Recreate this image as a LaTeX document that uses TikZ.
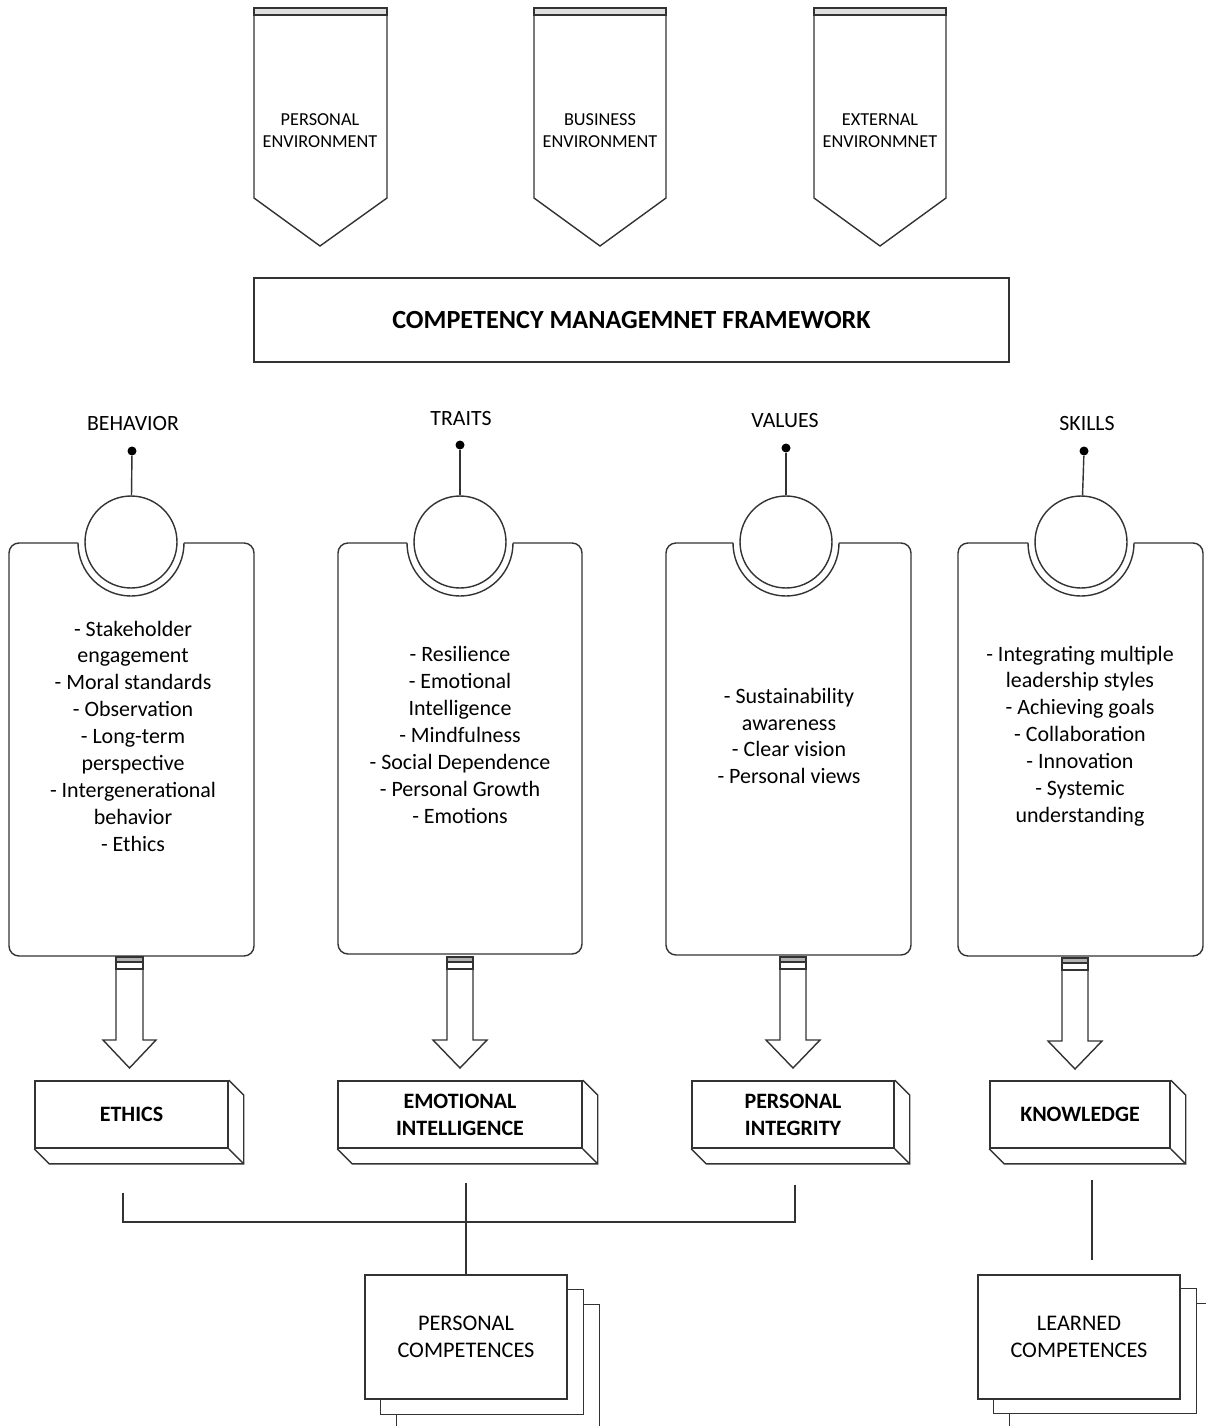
\documentclass[tikz,border=0pt]{standalone}
\usepackage{fontspec}
\setmainfont{Carlito}
\usetikzlibrary{backgrounds}

\begin{document}
\begin{tikzpicture}[
    x=0.02cm, y=-0.02cm,
    line/.style={draw=black!80, line width=0.8pt},
    envtext/.style={align=center, font=\fontsize{10.4}{12.5}\selectfont},
    framebox/.style={rectangle, line, minimum width=15.1cm, minimum height=1.68cm, font=\bfseries\fontsize{14.9}{17}\selectfont},
    heading/.style={font=\fontsize{12.4}{15}\selectfont},
    pin/.style={circle, fill=black, inner sep=0pt, minimum size=0.18cm},
    hub/.style={circle, line, inner sep=0pt, minimum size=1.84cm},
    itemlist/.style={align=center, font=\fontsize{12.5}{15.3}\selectfont},
    cube/.style={rectangle, line, line width=0.9pt, fill=white, minimum height=1.34cm, align=center, font=\bfseries\fontsize{12.5}{15.3}\selectfont},
    sheet/.style={rectangle, line, fill=white, minimum width=4.04cm, minimum height=2.48cm, align=center, font=\fontsize{12.7}{15.3}\selectfont},
    plug/.style={line, fill=gray!60}
]
    \useasboundingbox (0,0) rectangle (1206,1426);
    \clip (0,0) rectangle (1206,1426);

    % environments
    \draw[line] (254,15) -- (254,198) -- (320,246) -- (387,198) -- (387,15) -- cycle;
    \draw[line, fill=gray!25] (254,8) rectangle (387,15);
    \node[envtext] (penv) at (320,131) {PERSONAL\\ENVIRONMENT};
    \draw[line] (534,15) -- (534,198) -- (600,246) -- (666,198) -- (666,15) -- cycle;
    \draw[line, fill=gray!25] (534,8) rectangle (666,15);
    \node[envtext] (benv) at (600,131) {BUSINESS\\ENVIRONMENT};
    \draw[line] (814,15) -- (814,198) -- (880,246) -- (946,198) -- (946,15) -- cycle;
    \draw[line, fill=gray!25] (814,8) rectangle (946,15);
    \node[envtext] (eenv) at (880,131) {EXTERNAL\\ENVIRONMNET};

    \node[framebox] (cmf) at (631.5,320) {COMPETENCY MANAGEMNET FRAMEWORK};

    % behavior
    \node[heading] (behl) at (133,424) {BEHAVIOR};
    \node[pin] (behp) at (132,451) {};
    \node[hub] (behc) at (131,542) {};
    \draw[line] (behp) -- (behc);
    \draw[line, rounded corners=5.7pt] (184,543) -- (254,543) -- (254,956) -- (9,956) -- (9,543) -- (78,543);
    \draw[line] (78,543) arc[start angle=180, end angle=0, radius=53];
    \node[itemlist] (behi) at (133,736) {- Stakeholder\\engagement\\- Moral standards\\- Observation\\- Long-term\\perspective\\- Intergenerational\\behavior\\- Ethics};

    % traits
    \node[heading] (trl) at (461,419) {TRAITS};
    \node[pin] (trp) at (460,445) {};
    \node[hub] (trc) at (460,542) {};
    \draw[line] (trp) -- (trc);
    \draw[line, rounded corners=5.7pt] (513,543) -- (582,543) -- (582,954) -- (338,954) -- (338,543) -- (407,543);
    \draw[line] (407,543) arc[start angle=180, end angle=0, radius=53];
    \node[itemlist] (tri) at (460,735) {- Resilience\\- Emotional\\Intelligence\\- Mindfulness\\- Social Dependence\\- Personal Growth\\- Emotions};

    % values
    \node[heading] (vall) at (785,421) {VALUES};
    \node[pin] (valp) at (786,448) {};
    \node[hub] (valc) at (786,542) {};
    \draw[line] (valp) -- (valc);
    \draw[line, rounded corners=5.7pt] (839,543) -- (911,543) -- (911,955) -- (666,955) -- (666,543) -- (733,543);
    \draw[line] (733,543) arc[start angle=180, end angle=0, radius=53];
    \node[itemlist] (vali) at (789,736) {- Sustainability\\awareness\\- Clear vision\\- Personal views};

    % skills
    \node[heading] (skl) at (1087,424) {SKILLS};
    \node[pin] (skp) at (1084,451) {};
    \node[hub] (skc) at (1081,542) {};
    \draw[line] (skp) -- (skc);
    \draw[line, rounded corners=5.7pt] (1134,543) -- (1203,543) -- (1203,956) -- (958,956) -- (958,543) -- (1028,543);
    \draw[line] (1028,543) arc[start angle=180, end angle=0, radius=53];
    \node[itemlist] (ski) at (1080,736) {- Integrating multiple\\leadership styles\\- Achieving goals\\- Collaboration\\- Innovation\\- Systemic\\understanding};

    % block arrows
    \draw[plug] (116,957) rectangle (143,962);
    \draw[line] (116,962) rectangle (143,969);
    \draw[line] (116,969) -- (116,1040) -- (103,1040) -- (129.5,1068) -- (156,1040) -- (143,1040) -- (143,969);
    \draw[plug] (447,957) rectangle (473,962);
    \draw[line] (447,962) rectangle (473,969);
    \draw[line] (447,969) -- (447,1040) -- (433,1040) -- (460,1068) -- (487,1040) -- (473,1040) -- (473,969);
    \draw[plug] (780,957) rectangle (806,962);
    \draw[line] (780,962) rectangle (806,969);
    \draw[line] (780,969) -- (780,1040) -- (766,1040) -- (793,1068) -- (820,1040) -- (806,1040) -- (806,969);
    \draw[plug] (1062,958) rectangle (1088,963);
    \draw[line] (1062,963) rectangle (1088,970);
    \draw[line] (1062,970) -- (1062,1041) -- (1048,1041) -- (1075,1069) -- (1102,1041) -- (1088,1041) -- (1088,970);

    % outcome boxes
    \node[cube, minimum width=3.86cm] (ethics) at (131.5,1114.5) {ETHICS};
    \draw[line] (ethics.north east) -- ++(15,15) |- ([shift={(15,15)}]ethics.south west) -- (ethics.south west);
    \draw[line] (ethics.south east) -- ++(15,15);
    \node[cube, minimum width=4.88cm] (emo) at (460,1114.5) {EMOTIONAL\\INTELLIGENCE};
    \draw[line] (emo.north east) -- ++(15,15) |- ([shift={(15,15)}]emo.south west) -- (emo.south west);
    \draw[line] (emo.south east) -- ++(15,15);
    \node[cube, minimum width=4.04cm] (integ) at (793,1114.5) {PERSONAL\\INTEGRITY};
    \draw[line] (integ.north east) -- ++(15,15) |- ([shift={(15,15)}]integ.south west) -- (integ.south west);
    \draw[line] (integ.south east) -- ++(15,15);
    \node[cube, minimum width=3.6cm] (know) at (1080,1114.5) {KNOWLEDGE};
    \draw[line] (know.north east) -- ++(15,15) |- ([shift={(15,15)}]know.south west) -- (know.south west);
    \draw[line] (know.south east) -- ++(15,15);

    % competences
    \node[sheet] (pc) at (466,1337) {PERSONAL\\COMPETENCES};
    \node[sheet] (lc) at (1079,1337) {LEARNED\\COMPETENCES};
    \begin{scope}[on background layer]
        \draw[line, fill=white] ([shift={(32,30)}]pc.north west) rectangle ([shift={(32,30)}]pc.south east);
        \draw[line, fill=white] ([shift={(16,15)}]pc.north west) rectangle ([shift={(16,15)}]pc.south east);
        \draw[line, fill=white] ([shift={(32,29)}]lc.north west) rectangle ([shift={(32,29)}]lc.south east);
        \draw[line, fill=white] ([shift={(16,14)}]lc.north west) rectangle ([shift={(16,14)}]lc.south east);
    \end{scope}

    \coordinate (bl) at (123,1193);
    \coordinate (br) at (795,1185);
    \coordinate (bm) at (466,1183);
    \coordinate (bj) at (466,1222);
    \draw[line] (bl) |- (bj) -| (br);
    \draw[line] (bm) -- (pc.north);
    \coordinate (kt) at (1092,1180);
    \coordinate (kb) at (1092,1260);
    \draw[line] (kt) -- (kb);
\end{tikzpicture}
\end{document}
